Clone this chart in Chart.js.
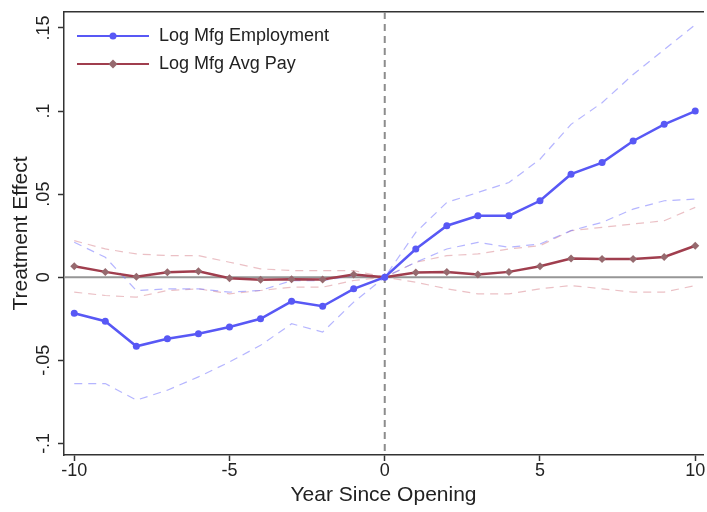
<!DOCTYPE html>
<html lang="en">
<head>
  <meta charset="UTF-8">
  <title>Treatment Effect by Year Since Opening</title>
  <script src="https://cdn.jsdelivr.net/npm/chart.js"></script>
  <style>
    body { margin: 0; background: #fff; }
  </style>
</head>
<body>

<canvas id="myChart" width="707" height="512"></canvas>

<script>
  // years relative to opening
  const years = [-10,-9,-8,-7,-6,-5,-4,-3,-2,-1,0,1,2,3,4,5,6,7,8,9,10];

  // Log Mfg Employment: estimate and 95% band
  const empEst = [-0.0217,-0.0265,-0.0416,-0.037,-0.034,-0.030,-0.025,-0.0145,-0.0175,-0.007,0,
                  0.017,0.031,0.037,0.037,0.046,0.062,0.069,0.082,0.092,0.100];
  const empHi  = [0.021,0.012,-0.008,-0.007,-0.007,-0.009,-0.008,-0.002,-0.002,0.001,0,
                  0.027,0.045,0.051,0.057,0.071,0.092,0.105,0.122,0.137,0.152];
  const empLo  = [-0.064,-0.064,-0.074,-0.068,-0.060,-0.051,-0.041,-0.028,-0.033,-0.015,0,
                  0.009,0.017,0.021,0.018,0.020,0.028,0.033,0.041,0.046,0.047];

  // Log Mfg Avg Pay: estimate and 95% band
  const payEst = [0.0066,0.0032,0.0003,0.003,0.0036,-0.0006,-0.0015,-0.0012,-0.0014,0.0016,0,
                  0.0028,0.0032,0.0016,0.0032,0.0066,0.0112,0.011,0.011,0.0122,0.0189];
  const payHi  = [0.022,0.017,0.014,0.013,0.013,0.009,0.005,0.004,0.004,0.004,0,
                  0.009,0.013,0.014,0.017,0.019,0.028,0.030,0.032,0.034,0.042];
  const payLo  = [-0.009,-0.011,-0.012,-0.008,-0.007,-0.010,-0.008,-0.006,-0.006,-0.002,0,
                  -0.003,-0.007,-0.010,-0.010,-0.007,-0.005,-0.007,-0.009,-0.009,-0.005];

  const xTicks = [-10, -5, 0, 5, 10];
  const yTicks = [-0.1, -0.05, 0, 0.05, 0.1, 0.15];

  const blue = 'rgb(88,88,245)';
  const red = 'rgb(160,62,78)';
  const redMarker = 'rgb(150,105,110)';
  const blueBand = 'rgba(120,120,255,0.55)';
  const redBand = 'rgba(215,130,140,0.5)';
  const FONT = 'Liberation Sans';

  const pts = arr => arr.map((v, i) => ({x: years[i], y: v}));

  // ".05" style tick labels
  function stataFmt(v) {
    if (Math.abs(v) < 1e-9) return '0';
    let s = String(Math.round(v * 100) / 100);
    return s.replace('0.', '.');
  }

  // line+marker picture for the legend (3px blank on the left)
  function legendGlyph(color, markerColor, style) {
    const c = document.createElement('canvas');
    c.width = 76; c.height = 12;
    const g = c.getContext('2d');
    g.strokeStyle = color; g.lineWidth = 2;
    g.beginPath(); g.moveTo(3, 6); g.lineTo(75, 6); g.stroke();
    g.fillStyle = markerColor;
    g.beginPath();
    if (style === 'circle') {
      g.arc(39, 6, 3.5, 0, Math.PI * 2);
    } else {
      g.moveTo(39, 1.5); g.lineTo(43.5, 6); g.lineTo(39, 10.5); g.lineTo(34.5, 6); g.closePath();
    }
    g.fill();
    return c;
  }
  const glyphs = [legendGlyph(blue, blue, 'circle'), legendGlyph(red, redMarker, 'diamond')];

  // zero reference lines, drawn under the data
  const refLines = {
    id: 'refLines',
    beforeDatasetsDraw(chart) {
      const {ctx, chartArea, scales} = chart;
      const y0 = scales.y.getPixelForValue(0);
      const x0 = scales.x.getPixelForValue(0);
      ctx.save();
      ctx.strokeStyle = 'rgb(150,150,150)';
      ctx.lineWidth = 2;
      ctx.beginPath(); ctx.moveTo(chartArea.left, y0); ctx.lineTo(chartArea.right, y0); ctx.stroke();
      ctx.strokeStyle = 'rgb(140,140,140)';
      ctx.setLineDash([7, 5]);
      ctx.beginPath(); ctx.moveTo(x0, chartArea.top); ctx.lineTo(x0, chartArea.bottom); ctx.stroke();
      ctx.restore();
    }
  };

  const band = (data, color) => ({
    data: pts(data),
    borderColor: color,
    borderWidth: 1.2,
    borderDash: [8, 6],
    pointRadius: 0,
    fill: false,
    tension: 0
  });

  const ctx = document.getElementById('myChart').getContext('2d');
  new Chart(ctx, {
    type: 'line',
    data: {
      datasets: [
        {
          label: 'Log Mfg Employment',
          data: pts(empEst),
          borderColor: blue,
          backgroundColor: blue,
          borderWidth: 2.5,
          pointStyle: 'circle',
          pointRadius: 3.5,
          pointBorderWidth: 0,
          fill: false
        },
        {
          label: 'Log Mfg Avg Pay',
          data: pts(payEst),
          borderColor: red,
          backgroundColor: redMarker,
          borderWidth: 2.5,
          pointStyle: 'rectRot',
          pointRadius: 4,
          pointBorderWidth: 0,
          fill: false
        },
        band(empHi, blueBand),
        band(empLo, blueBand),
        band(payHi, redBand),
        band(payLo, redBand)
      ]
    },
    options: {
      responsive: false,
      animation: false,
      layout: { padding: { left: 0, top: 12, right: 0, bottom: 0 } },
      plugins: {
        tooltip: { enabled: false },
        legend: {
          position: 'chartArea',
          align: 'start',
          title: { display: true, text: ' ', font: { size: 10 }, padding: { top: 5, bottom: 0 } },
          labels: {
            usePointStyle: true,
            pointStyleWidth: 76,
            boxHeight: 12,
            padding: 10,
            color: '#222',
            font: { family: FONT, size: 18 },
            generateLabels(chart) {
              return Chart.defaults.plugins.legend.labels.generateLabels(chart)
                .filter(l => l.datasetIndex < 2)
                .map(l => Object.assign(l, { pointStyle: glyphs[l.datasetIndex] }));
            }
          }
        }
      },
      scales: {
        x: {
          type: 'linear',
          position: 'bottom',
          min: -10.33,
          max: 10.25,
          afterBuildTicks: s => { s.ticks = xTicks.map(v => ({value: v})); },
          afterFit: s => { s.height = 57; },
          grid: { drawOnChartArea: false, color: '#333', tickLength: 6, tickWidth: 1.5 },
          border: { color: '#333', width: 1.5 },
          ticks: {
            padding: 1,
            color: '#222',
            font: { family: FONT, size: 18, lineHeight: 1 },
            maxRotation: 0
          },
          title: {
            display: true,
            text: 'Year Since Opening',
            color: '#222',
            font: { family: FONT, size: 21 },
            padding: { top: 0, bottom: 4 }
          }
        },
        x2: {
          type: 'linear',
          position: 'top',
          min: -10.33,
          max: 10.25,
          grid: { display: false, drawTicks: false },
          border: { color: '#333', width: 1.5 },
          ticks: { display: false }
        },
        y: {
          min: -0.107,
          max: 0.1596,
          afterBuildTicks: s => { s.ticks = yTicks.map(v => ({value: v})); },
          afterFit: s => { s.width = 64; },
          grid: { drawOnChartArea: false, color: '#333', tickLength: 6, tickWidth: 1.5 },
          border: { color: '#333', width: 1.5 },
          ticks: {
            padding: -2,
            minRotation: 90,
            maxRotation: 90,
            crossAlign: 'center',
            color: '#222',
            font: { family: FONT, size: 18 },
            callback: v => stataFmt(v)
          },
          title: {
            display: true,
            text: 'Treatment Effect',
            color: '#222',
            font: { family: FONT, size: 21 },
            padding: { top: 9, bottom: 0 }
          }
        }
      }
    },
    plugins: [refLines]
  });
</script>

</body>
</html>
